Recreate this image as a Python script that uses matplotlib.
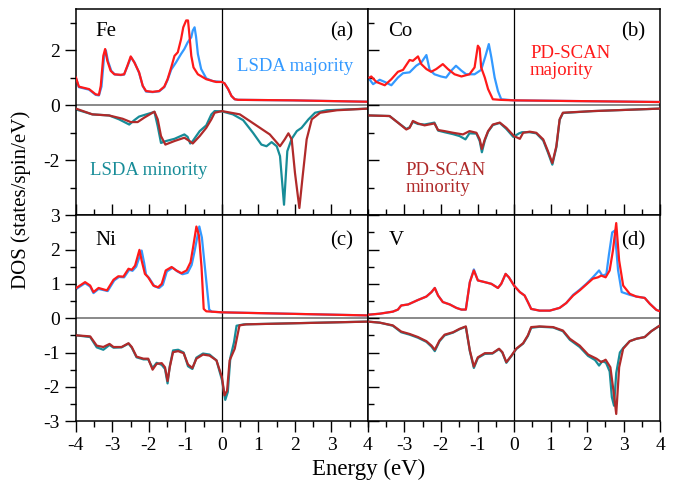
import matplotlib.pyplot as plt
from matplotlib.ticker import FixedLocator, MultipleLocator

plt.rcParams['font.family'] = ['Liberation Serif', 'DejaVu Serif']
plt.rcParams['axes.unicode_minus'] = False

# ---- Fe ----
fe_lsda_maj_x = [-4.0, -3.92, -3.64, -3.46, -3.37, -3.3, -3.23, -3.18, -3.12, -3.03, -2.93, -2.77, -2.68, -2.59,
                 -2.49, -2.39, -2.27, -2.17, -2.08, -1.9, -1.72, -1.58, -1.49, -1.39, -1.26, -1.12, -1.03, -0.94,
                 -0.84, -0.80, -0.75, -0.71, -0.66, -0.57, -0.43, -0.25, 0.0, 0.07, 0.17, 0.26, 0.35, 0.44, 1.95, 4.0]
fe_lsda_maj_y = [1.0, 0.66, 0.57, 0.38, 0.36, 0.68, 1.75, 2.0, 1.60, 1.25, 1.12, 1.10, 1.12, 1.42,
                 1.75, 1.55, 1.18, 0.70, 0.50, 0.48, 0.51, 0.66, 0.92, 1.30, 1.56, 1.87, 2.05, 2.29,
                 2.48, 2.72, 2.84, 2.5, 1.87, 1.32, 0.98, 0.88, 0.85, 0.80, 0.59, 0.34, 0.22, 0.2, 0.18, 0.13]
fe_scan_maj_x = [-4.0, -3.92, -3.64, -3.46, -3.37, -3.32, -3.25, -3.2, -3.14, -3.05, -2.95, -2.77, -2.68, -2.59,
                 -2.5, -2.4, -2.27, -2.17, -2.08, -1.9, -1.72, -1.58, -1.49, -1.39, -1.30, -1.21, -1.12, -1.06,
                 -0.98, -0.93, -0.89, -0.84, -0.78, -0.66, -0.43, -0.16, 0.0, 0.07, 0.17, 0.26, 0.35, 0.44, 1.95, 4.0]
fe_scan_maj_y = [1.01, 0.68, 0.59, 0.40, 0.38, 0.71, 1.80, 2.05, 1.62, 1.26, 1.13, 1.11, 1.13, 1.44,
                 1.78, 1.56, 1.2, 0.71, 0.52, 0.49, 0.52, 0.68, 0.95, 1.38, 1.80, 1.93, 2.41, 2.84,
                 3.09, 3.09, 2.54, 1.80, 1.38, 1.13, 0.95, 0.85, 0.85, 0.80, 0.59, 0.34, 0.22, 0.2, 0.18, 0.13]
fe_lsda_min_x = [-4.0, -3.55, -3.09, -2.82, -2.54, -2.4, -2.27, -1.85, -1.76, -1.67, -1.53, -1.30, -1.03, -0.94,
                 -0.87, -0.8, -0.61, -0.43, -0.29, -0.2, 0.0, 0.3, 0.58, 0.85, 1.08, 1.22, 1.36, 1.50, 1.59,
                 1.70, 1.79, 1.91, 2.05, 2.18, 2.37, 2.55, 2.87, 4.0]
fe_lsda_min_y = [-0.15, -0.33, -0.37, -0.51, -0.70, -0.54, -0.41, -0.24, -0.76, -1.37, -1.30, -1.22, -1.06, -1.15,
                 -1.39, -1.30, -0.94, -0.73, -0.33, -0.21, -0.22, -0.33, -0.54, -1.0, -1.43, -1.49, -1.34, -1.49, -1.85,
                 -3.62, -1.67, -1.22, -0.94, -0.82, -0.51, -0.27, -0.18, -0.12]
fe_scan_min_x = [-4.0, -3.55, -3.09, -2.72, -2.5, -2.31, -2.13, -1.85, -1.76, -1.67, -1.55, -1.30, -1.03, -0.89,
                 -0.8, -0.61, -0.43, -0.29, -0.2, 0.0, 0.49, 0.76, 1.04, 1.31, 1.59, 1.72, 1.82, 1.91, 2.0,
                 2.12, 2.21, 2.32, 2.46, 2.69, 3.15, 4.0]
fe_scan_min_y = [-0.12, -0.33, -0.37, -0.49, -0.61, -0.61, -0.45, -0.23, -0.51, -1.12, -1.43, -1.30, -1.18, -1.30,
                 -1.39, -1.12, -0.82, -0.51, -0.27, -0.21, -0.33, -0.57, -0.82, -1.06, -1.49, -1.24, -1.02, -1.24, -2.46,
                 -3.74, -2.59, -1.24, -0.51, -0.27, -0.18, -0.12]

# ---- Co ----
co_lsda_maj_x = [-3.96, -3.86, -3.68, -3.54, -3.36, -3.18, -3.04, -2.86, -2.68, -2.54, -2.40, -2.31, -2.18, -2.0,
                 -1.86, -1.72, -1.59, -1.44, -1.31, -1.08, -0.9, -0.78, -0.69, -0.62, -0.53, -0.44, -0.35, 0.0, 4.0]
co_lsda_maj_y = [0.95, 0.77, 0.93, 0.85, 0.73, 1.01, 1.17, 1.2, 1.44, 1.56, 1.83, 1.29, 1.13, 1.05,
                 1.01, 1.26, 1.44, 1.26, 1.13, 1.13, 1.29, 1.80, 2.23, 1.74, 1.01, 0.52, 0.22, 0.18, 0.12]
co_scan_maj_x = [-3.96, -3.91, -3.77, -3.54, -3.36, -3.18, -3.04, -2.86, -2.77, -2.63, -2.54, -2.40, -2.27, -2.13,
                 -1.95, -1.81, -1.63, -1.44, -1.22, -1.08, -0.99, -0.94, -0.90, -0.8, -0.71, -0.58, -0.39, 0.0, 4.0]
co_scan_maj_y = [1.01, 1.05, 0.85, 0.73, 0.95, 1.22, 1.29, 1.65, 1.62, 1.78, 1.50, 1.32, 1.22, 1.32,
                 1.50, 1.32, 1.13, 1.05, 1.13, 1.38, 2.17, 2.07, 1.38, 1.01, 0.59, 0.22, 0.2, 0.18, 0.12]
co_lsda_min_x = [-3.96, -3.41, -3.18, -2.95, -2.86, -2.77, -2.63, -2.45, -2.18, -2.08, -1.90, -1.67, -1.49, -1.33,
                 -1.22, -1.03, -0.94, -0.88, -0.80, -0.71, -0.58, -0.39, -0.21, -0.02, 0.14, 0.22, 0.43, 0.61,
                 0.8, 0.93, 1.05, 1.16, 1.25, 1.34, 2.17, 4.0]
co_lsda_min_y = [-0.37, -0.39, -0.63, -0.86, -0.80, -0.60, -0.68, -0.70, -0.63, -0.92, -0.98, -1.05, -1.12, -1.24,
                 -1.02, -1.03, -1.30, -1.71, -1.28, -0.96, -0.72, -0.64, -0.86, -1.15, -1.02, -0.98, -0.98, -1.02,
                 -1.28, -1.72, -2.16, -1.53, -0.53, -0.28, -0.21, -0.12]
co_scan_min_x = [-3.96, -3.41, -3.18, -2.95, -2.86, -2.77, -2.63, -2.45, -2.18, -2.08, -1.90, -1.67, -1.40, -1.22,
                 -1.03, -0.94, -0.88, -0.80, -0.71, -0.58, -0.39, -0.21, 0.0, 0.16, 0.25, 0.43, 0.61, 0.8, 0.93,
                 1.05, 1.16, 1.25, 1.34, 2.17, 4.0]
co_scan_min_y = [-0.37, -0.39, -0.63, -0.88, -0.82, -0.57, -0.66, -0.73, -0.66, -0.90, -0.94, -1.0, -1.06, -0.94,
                 -1.0, -1.24, -1.59, -1.24, -0.94, -0.70, -0.63, -0.82, -1.12, -1.22, -1.0, -0.96, -1.0, -1.24, -1.67,
                 -2.10, -1.49, -0.51, -0.27, -0.21, -0.12]

# ---- Ni ----
ni_lsda_maj_x = [-3.99, -3.75, -3.61, -3.52, -3.38, -3.25, -3.13, -2.95, -2.82, -2.68, -2.54, -2.45, -2.35, -2.2,
                 -2.13, -2.08, -1.99, -1.85, -1.72, -1.62, -1.51, -1.35, -1.22, -1.08, -0.94, -0.83, -0.75, -0.62,
                 -0.55, -0.45, -0.35, -0.28, 0.0, 4.0]
ni_lsda_maj_y = [0.85, 1.02, 0.92, 0.73, 0.85, 0.82, 0.79, 1.10, 1.20, 1.19, 1.41, 1.38, 1.50, 1.97,
                 1.6, 1.27, 1.16, 0.93, 0.88, 0.97, 1.36, 1.47, 1.36, 1.28, 1.32, 1.55, 1.95, 2.67,
                 2.35, 1.3, 0.25, 0.19, 0.17, 0.08]
ni_scan_maj_x = [-3.99, -3.75, -3.61, -3.52, -3.38, -3.25, -3.15, -2.97, -2.84, -2.7, -2.56, -2.47, -2.38, -2.26,
                 -2.2, -2.11, -2.02, -1.88, -1.75, -1.65, -1.54, -1.38, -1.25, -1.11, -0.97, -0.86, -0.79, -0.7,
                 -0.63, -0.56, -0.5, -0.43, 0.0, 4.0]
ni_scan_maj_y = [0.88, 1.05, 0.95, 0.76, 0.88, 0.84, 0.81, 1.12, 1.22, 1.21, 1.44, 1.41, 1.53, 1.99,
                 1.68, 1.29, 1.19, 0.95, 0.90, 1.0, 1.39, 1.49, 1.39, 1.31, 1.39, 1.63, 2.07, 2.67,
                 2.41, 1.49, 0.27, 0.2, 0.17, 0.08]
ni_lsda_min_x = [-3.99, -3.61, -3.43, -3.25, -3.08, -2.97, -2.75, -2.56, -2.47, -2.34, -2.15, -2.02, -1.9, -1.79,
                 -1.65, -1.56, -1.49, -1.43, -1.34, -1.2, -1.05, -0.93, -0.81, -0.7, -0.52, -0.34, -0.15, 0.0,
                 0.09, 0.16, 0.23, 0.33, 0.4, 0.6, 4.0]
ni_lsda_min_y = [-0.50, -0.55, -0.85, -0.92, -0.78, -0.86, -0.85, -0.74, -0.86, -1.14, -1.20, -1.20, -1.45, -1.30,
                 -1.36, -1.48, -1.90, -1.40, -0.94, -0.92, -1.00, -1.40, -1.48, -1.15, -1.03, -1.06, -1.23, -1.80,
                 -2.38, -2.15, -1.15, -0.70, -0.22, -0.18, -0.10]
ni_scan_min_x = [-3.99, -3.61, -3.43, -3.25, -3.08, -2.97, -2.75, -2.56, -2.47, -2.34, -2.15, -2.02, -1.9, -1.79,
                 -1.65, -1.56, -1.49, -1.43, -1.34, -1.2, -1.05, -0.93, -0.81, -0.7, -0.52, -0.34, -0.15, 0.0,
                 0.07, 0.14, 0.21, 0.35, 0.48, 0.66, 4.0]
ni_scan_min_y = [-0.50, -0.53, -0.80, -0.84, -0.75, -0.84, -0.84, -0.73, -0.84, -1.12, -1.18, -1.18, -1.50, -1.33,
                 -1.31, -1.43, -1.83, -1.43, -0.99, -0.96, -1.02, -1.35, -1.45, -1.18, -1.06, -1.09, -1.23, -1.72,
                 -2.25, -2.11, -1.23, -0.89, -0.21, -0.18, -0.10]

# ---- V ----
v_lsda_maj_x = [-4.0, -3.68, -3.32, -3.18, -3.09, -2.9, -2.63, -2.4, -2.26, -2.17, -2.08, -1.95, -1.76, -1.58,
                -1.44, -1.32, -1.21, -1.1, -0.99, -0.8, -0.62, -0.44, -0.35, -0.23, -0.14, 0.0, 0.16, 0.29,
                0.38, 0.47, 0.7, 0.98, 1.25, 1.43, 1.62, 1.8, 1.98, 2.16, 2.33, 2.42, 2.53, 2.6, 2.69, 2.76,
                2.85, 2.95, 3.17, 3.35, 3.58, 3.72, 3.9, 4.0]
v_lsda_maj_y = [0.10, 0.13, 0.19, 0.25, 0.37, 0.40, 0.53, 0.63, 0.76, 0.88, 0.66, 0.47, 0.40, 0.30,
                0.25, 0.25, 1.05, 1.42, 1.10, 1.05, 1.0, 0.88, 1.0, 1.29, 1.19, 0.95, 0.76, 0.66,
                0.47, 0.27, 0.22, 0.22, 0.30, 0.44, 0.68, 0.83, 1.0, 1.19, 1.39, 1.24, 1.28, 1.85, 2.5, 2.55,
                1.4, 0.76, 0.68, 0.63, 0.59, 0.42, 0.24, 0.2]
v_scan_maj_x = [-4.0, -3.68, -3.32, -3.18, -3.09, -2.9, -2.63, -2.4, -2.26, -2.17, -2.08, -1.95, -1.76, -1.58,
                -1.44, -1.32, -1.21, -1.1, -0.99, -0.8, -0.62, -0.44, -0.35, -0.23, -0.14, 0.0, 0.16, 0.29,
                0.38, 0.47, 0.7, 0.98, 1.25, 1.43, 1.62, 1.8, 1.98, 2.16, 2.3, 2.39, 2.51, 2.62, 2.71, 2.8,
                2.88, 2.99, 3.17, 3.35, 3.58, 3.72, 3.9, 4.0]
v_scan_maj_y = [0.10, 0.13, 0.19, 0.25, 0.37, 0.40, 0.53, 0.63, 0.76, 0.88, 0.66, 0.47, 0.40, 0.30,
                0.25, 0.25, 1.05, 1.39, 1.10, 1.05, 1.0, 0.88, 1.0, 1.29, 1.19, 0.95, 0.76, 0.66,
                0.47, 0.27, 0.22, 0.22, 0.30, 0.44, 0.66, 0.81, 0.98, 1.15, 1.19, 1.24, 1.19, 1.39, 1.97, 2.77,
                1.68, 0.95, 0.71, 0.63, 0.59, 0.42, 0.24, 0.2]
v_lsda_min_x = [-4.0, -3.68, -3.32, -3.09, -2.86, -2.63, -2.4, -2.26, -2.17, -2.04, -1.9, -1.67, -1.49, -1.32,
                -1.21, -1.1, -0.99, -0.8, -0.59, -0.41, -0.32, -0.21, -0.07, 0.06, 0.25, 0.38, 0.47, 0.7,
                1.07, 1.34, 1.53, 1.8, 2.03, 2.22, 2.33, 2.42, 2.52, 2.62, 2.68, 2.74, 2.8, 2.9, 2.99, 3.17,
                3.35, 3.58, 3.76, 4.0]
v_lsda_min_y = [-0.10, -0.13, -0.22, -0.41, -0.48, -0.57, -0.69, -0.83, -0.96, -0.67, -0.50, -0.42, -0.32, -0.25,
                -0.96, -1.45, -1.16, -1.04, -1.03, -0.90, -1.0, -1.30, -1.10, -0.90, -0.74, -0.52, -0.28, -0.25,
                -0.27, -0.38, -0.63, -0.84, -1.10, -1.22, -1.38, -1.25, -1.30, -1.55, -2.3, -2.55, -1.6, -1.0, -0.87,
                -0.67, -0.60, -0.55, -0.38, -0.21]
v_scan_min_x = [-4.0, -3.68, -3.32, -3.09, -2.86, -2.63, -2.4, -2.26, -2.17, -2.04, -1.9, -1.67, -1.49, -1.32,
                -1.21, -1.1, -0.99, -0.8, -0.59, -0.41, -0.32, -0.21, -0.07, 0.06, 0.25, 0.38, 0.47, 0.7,
                1.07, 1.34, 1.53, 1.8, 2.03, 2.26, 2.39, 2.51, 2.64, 2.73, 2.8, 2.88, 2.99, 3.17,
                3.35, 3.58, 3.76, 4.0]
v_scan_min_y = [-0.10, -0.13, -0.21, -0.39, -0.46, -0.55, -0.67, -0.80, -0.92, -0.65, -0.48, -0.41, -0.31, -0.24,
                -0.94, -1.41, -1.14, -1.02, -1.02, -0.89, -0.99, -1.28, -1.09, -0.89, -0.73, -0.50, -0.26, -0.24,
                -0.26, -0.36, -0.60, -0.80, -1.06, -1.18, -1.28, -1.21, -1.43, -2.16, -2.79, -1.43, -0.89, -0.67,
                -0.60, -0.55, -0.38, -0.21]

elements = ['Fe', 'Co', 'Ni', 'V']
panel_tags = ['(a)', '(b)', '(c)', '(d)']

c_lsda_maj = '#3399ff'
c_scan_maj = '#ff1a1a'
c_lsda_min = '#178c98'
c_scan_min = '#b02a2a'

curves = [
    (fe_lsda_maj_x, fe_lsda_maj_y, fe_scan_maj_x, fe_scan_maj_y, fe_lsda_min_x, fe_lsda_min_y, fe_scan_min_x, fe_scan_min_y),
    (co_lsda_maj_x, co_lsda_maj_y, co_scan_maj_x, co_scan_maj_y, co_lsda_min_x, co_lsda_min_y, co_scan_min_x, co_scan_min_y),
    (ni_lsda_maj_x, ni_lsda_maj_y, ni_scan_maj_x, ni_scan_maj_y, ni_lsda_min_x, ni_lsda_min_y, ni_scan_min_x, ni_scan_min_y),
    (v_lsda_maj_x, v_lsda_maj_y, v_scan_maj_x, v_scan_maj_y, v_lsda_min_x, v_lsda_min_y, v_scan_min_x, v_scan_min_y),
]

fig, axes = plt.subplots(2, 2, figsize=(6.78, 4.83), dpi=100)
fig.subplots_adjust(left=0.112, right=0.9735, top=0.981, bottom=0.128, hspace=0, wspace=0)

for i, ax in enumerate(axes.flat):
    row, col = divmod(i, 2)
    lx, ly, sx, sy, lmx, lmy, smx, smy = curves[i]
    ax.axhline(0, color='#808080', lw=1.3, zorder=1)
    ax.axvline(0, color='black', lw=0.9, zorder=1)
    ax.plot(lx, ly, color=c_lsda_maj, lw=1.6, zorder=2)
    ax.plot(lmx, lmy, color=c_lsda_min, lw=1.6, zorder=2)
    ax.plot(sx, sy, color=c_scan_maj, lw=1.6, zorder=3)
    ax.plot(smx, smy, color=c_scan_min, lw=1.6, zorder=3)
    ax.set_xlim(-4, 4)
    if row == 0:
        ax.set_ylim(-4, 3.5)
        ax.yaxis.set_major_locator(FixedLocator([-2, 0, 2]))
        ax.yaxis.set_minor_locator(FixedLocator([-3, -1, 1, 3]))
    else:
        ax.set_ylim(-3, 3)
        ax.yaxis.set_major_locator(MultipleLocator(1))
        ax.yaxis.set_minor_locator(MultipleLocator(0.5))
    if col == 0:
        ax.xaxis.set_major_locator(MultipleLocator(1))
    else:
        ax.xaxis.set_major_locator(FixedLocator([-3, -2, -1, 0, 1, 2, 3, 4]))
    ax.xaxis.set_minor_locator(MultipleLocator(0.5))

    ax.tick_params(axis='y', which='both', direction='out' if col == 0 else 'in',
                   labelleft=(col == 0), right=False, labelsize=14, width=1)
    ax.tick_params(axis='x', which='both', direction='out' if row == 1 else 'in',
                   labelbottom=(row == 1), top=False, labelsize=14, width=1)
    ax.tick_params(which='major', length=8)
    ax.tick_params(which='minor', length=4)
    for sp in ax.spines.values():
        sp.set_linewidth(1.1)

    ax.text(0.065 if col == 0 else 0.07, 0.89 if row == 0 else 0.875, elements[i],
            transform=ax.transAxes, fontsize=15, ha='left', va='center')
    ax.text(0.95, 0.89 if row == 0 else 0.875, panel_tags[i],
            transform=ax.transAxes, fontsize=15, ha='right', va='center')

axes[0, 0].text(0.75, 0.72, 'LSDA majority', color=c_lsda_maj, transform=axes[0, 0].transAxes,
                fontsize=13.5, ha='center', va='center')
axes[0, 0].text(0.25, 0.215, 'LSDA minority', color=c_lsda_min, transform=axes[0, 0].transAxes,
                fontsize=13.5, ha='center', va='center')
axes[0, 1].text(0.555, 0.745, 'PD-SCAN\nmajority', color=c_scan_maj, transform=axes[0, 1].transAxes,
                fontsize=13.5, ha='left', va='center', multialignment='left', linespacing=1.0)
axes[0, 1].text(0.13, 0.175, 'PD-SCAN\nminority', color=c_scan_min, transform=axes[0, 1].transAxes,
                fontsize=13.5, ha='left', va='center', multialignment='left', linespacing=0.95)

fig.text(0.031, 0.586, 'DOS (states/spin/eV)', rotation=90, fontsize=15, ha='center', va='center')
fig.text(0.544, 0.028, 'Energy (eV)', fontsize=16.5, ha='center', va='center')

fig.savefig('out.png', dpi=100)
